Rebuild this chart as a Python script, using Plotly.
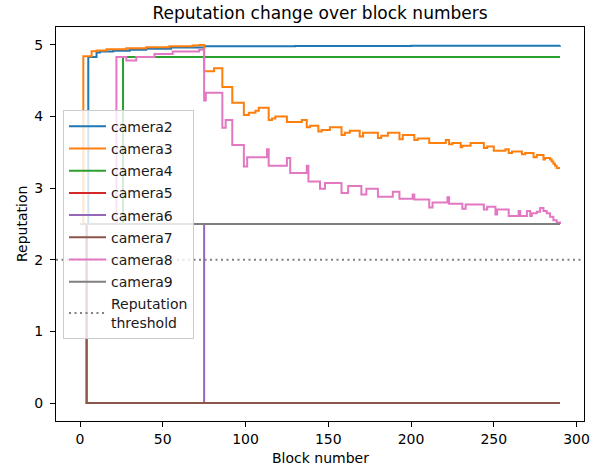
import plotly.graph_objects as go

# Reputation per camera, stored as (block where the value changes, new value).
# Each series is drawn as a step line that holds its value until the next change.
camera2_blocks = [0, 5, 10, 12, 20, 30, 40, 55, 75, 130, 200, 290]
camera2_values = [2.5, 4.83, 4.89, 4.905, 4.915, 4.93, 4.945, 4.962, 4.978, 4.983, 4.987, 4.99]

camera3_blocks = [0, 2, 7, 10, 16, 28, 40, 54, 68, 72, 75, 81, 86, 92, 99, 102, 106, 108,
                  114, 116, 118, 125, 134, 137, 139, 144, 146, 151, 158, 160, 163, 169, 171,
                  180, 182, 186, 193, 195, 202, 204, 211, 221, 223, 225, 230, 231, 236, 244,
                  246, 250, 257, 259, 261, 267, 269, 274, 276, 280, 281, 284, 285, 286, 287,
                  288, 290]
camera3_values = [2.5, 4.84, 4.91, 4.92, 4.935, 4.95, 4.965, 4.98, 4.99, 4.997, 4.63, 4.67,
                  4.41, 4.19, 4.02, 4.05, 4.08, 4.12, 3.95, 3.97, 4.0, 3.92, 3.95, 3.85, 3.87,
                  3.79, 3.81, 3.85, 3.74, 3.77, 3.80, 3.72, 3.77, 3.70, 3.73, 3.77, 3.68, 3.74,
                  3.67, 3.69, 3.63, 3.67, 3.61, 3.63, 3.57, 3.59, 3.63, 3.56, 3.58, 3.52, 3.54,
                  3.49, 3.51, 3.47, 3.49, 3.43, 3.46, 3.40, 3.42, 3.40, 3.37, 3.34, 3.31, 3.28,
                  3.28]

camera4_blocks = [0, 26, 290]
camera4_values = [2.5, 4.83, 4.83]

camera5_blocks = [0, 4, 290]
camera5_values = [2.5, 0.0, 0.0]

camera6_blocks = [0, 75, 290]
camera6_values = [2.5, 0.0, 0.0]

camera7_blocks = [0, 4, 290]
camera7_values = [2.5, 0.0, 0.0]

camera8_blocks = [0, 22, 28, 34, 45, 56, 72, 75, 76, 86, 88, 92, 99, 101, 113, 114, 125, 127,
                  137, 138, 145, 148, 158, 162, 170, 173, 180, 189, 193, 201, 202, 211, 213,
                  222, 223, 231, 233, 244, 246, 251, 252, 259, 265, 266, 270, 272, 273, 276,
                  278, 280, 282, 284, 286, 288, 290]
camera8_values = [2.5, 4.83, 4.78, 4.83, 4.87, 4.905, 4.93, 4.22, 4.33, 3.84, 3.95, 3.60, 3.30,
                  3.43, 3.54, 3.31, 3.42, 3.21, 3.31, 3.09, 2.99, 3.07, 2.93, 3.03, 2.91, 2.99,
                  2.88, 2.95, 2.85, 2.91, 2.84, 2.73, 2.80, 2.87, 2.78, 2.71, 2.77, 2.70, 2.74,
                  2.63, 2.70, 2.61, 2.68, 2.61, 2.68, 2.61, 2.65, 2.67, 2.72, 2.68, 2.65, 2.60,
                  2.55, 2.52, 2.50]

camera9_blocks = [0, 290]
camera9_values = [2.5, 2.5]

reputation_threshold = 2.0

series = [
    ("camera2", camera2_blocks, camera2_values, "#1f77b4"),
    ("camera3", camera3_blocks, camera3_values, "#ff7f0e"),
    ("camera4", camera4_blocks, camera4_values, "#2ca02c"),
    ("camera5", camera5_blocks, camera5_values, "#d62728"),
    ("camera6", camera6_blocks, camera6_values, "#9467bd"),
    ("camera7", camera7_blocks, camera7_values, "#8c564b"),
    ("camera8", camera8_blocks, camera8_values, "#e377c2"),
    ("camera9", camera9_blocks, camera9_values, "#7f7f7f"),
]

FONT = "DejaVu Sans"
W, H = 594, 470
M_L, M_R, M_T, M_B = 56, 9.5, 27.3, 48.7
plot_w = W - M_L - M_R
plot_h = H - M_T - M_B

fig = go.Figure()
for name, blocks, values, color in series:
    assert len(blocks) == len(values), name
    fig.add_trace(go.Scatter(
        x=blocks, y=values, name=name, legendgroup=name, mode="lines",
        line=dict(color=color, width=2, shape="hv"),
    ))

# Threshold drawn across the full x range, dotted grey
x_range = [-14.5, 304.5]
fig.add_trace(go.Scatter(
    x=x_range, y=[reputation_threshold, reputation_threshold],
    name="Reputation<br>threshold", legendgroup="threshold", mode="lines",
    line=dict(color="#808080", width=2, dash="2px,3.5px"),
))

fig.update_layout(
    width=W, height=H,
    margin=dict(l=M_L, r=M_R, t=M_T, b=M_B, autoexpand=False),
    paper_bgcolor="white", plot_bgcolor="white",
    font=dict(family=FONT, size=14, color="black"),
    title=dict(
        text="Reputation change over block numbers",
        font=dict(family=FONT, size=17, color="black"),
        x=0.5, xref="paper", xanchor="center",
        y=1 - 13.5 / H, yref="container", yanchor="middle",
    ),
    showlegend=True,
    legend=dict(
        x=(63 - M_L) / plot_w, y=(H - M_B - 110) / plot_h,
        xanchor="left", yanchor="top",
        bgcolor="rgba(255,255,255,0.8)", bordercolor="#cccccc", borderwidth=1,
        font=dict(family=FONT, size=14, color="#1a1a1a"),
        itemwidth=37, tracegroupgap=1,
    ),
    annotations=[
        dict(text="Block number", xref="paper", yref="paper",
             x=0.5, y=(H - M_B - 458) / plot_h, xanchor="center", yanchor="middle",
             showarrow=False, font=dict(family=FONT, size=14, color="black")),
        dict(text="Reputation", xref="paper", yref="paper", textangle=-90,
             x=(22 - M_L) / plot_w, y=0.5, xanchor="center", yanchor="middle",
             showarrow=False, font=dict(family=FONT, size=14, color="black")),
    ],
)

fig.update_xaxes(
    range=x_range, tickvals=[0, 50, 100, 150, 200, 250, 300],
    showline=True, mirror=True, linecolor="black", linewidth=1.1,
    ticks="outside", ticklen=5, tickwidth=1.1, tickcolor="black",
    showgrid=False, zeroline=False, automargin=False,
)
fig.update_yaxes(
    range=[-0.25, 5.247], tickvals=[0, 1, 2, 3, 4, 5],
    showline=True, mirror=True, linecolor="black", linewidth=1.1,
    ticks="outside", ticklen=5, tickwidth=1.1, tickcolor="black",
    ticklabelstandoff=4,
    showgrid=False, zeroline=False, automargin=False,
)

fig.write_html("out.html")
